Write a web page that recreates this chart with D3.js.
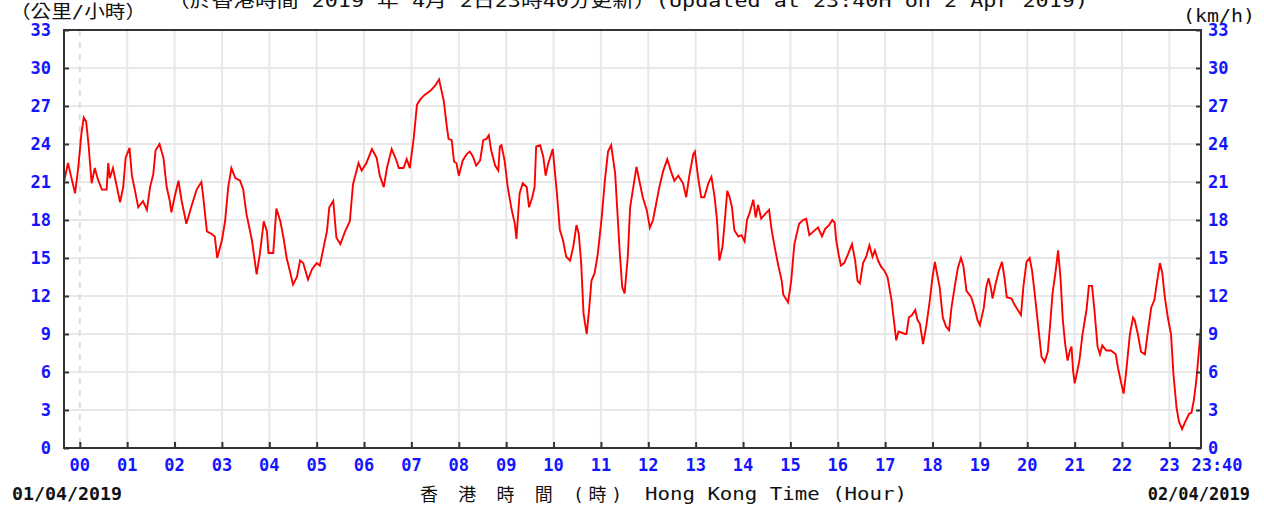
<!DOCTYPE html>
<html>
<head>
<meta charset="utf-8">
<script src="https://cdn.jsdelivr.net/npm/d3@7"></script>
<style>
  body { margin: 0; background: #fff; }
  svg { display: block; }
  .tick-label { font-family: "DejaVu Sans Mono", monospace; font-weight: bold; font-size: 17px; fill: #1414ff; }
  .plain { font-family: "DejaVu Sans Mono", "Noto Sans CJK TC", monospace; font-size: 18px; fill: #111; }
  .date { font-family: "DejaVu Sans Mono", monospace; font-weight: bold; font-size: 17px; fill: #111; }
</style>
</head>
<body>
<div class="chart"></div>
<script>
var svgWidth = 1264;
var svgHeight = 508;

// plot box
var margin = { top: 30, right: 63, bottom: 60, left: 64 };
var width = svgWidth - margin.left - margin.right;
var height = svgHeight - margin.top - margin.bottom;

// minutes after 00:00 on 02/04 and wind speed in km/h
var minutes = [
  -20, -15, -6, -2, 2, 5, 8, 11, 15, 19, 23, 28, 34, 36, 38, 42, 47, 51, 55, 58,
  63, 66, 70, 74, 80, 85, 89, 93, 96, 101, 106, 110, 114, 116, 120, 125, 129, 135, 142, 148,
  154, 156, 161, 167, 171, 174, 180, 184, 188, 192, 197, 203, 207, 211, 218, 224, 228, 233, 237, 239,
  245, 249, 254, 258, 262, 266, 270, 275, 279, 283, 289, 294, 300, 304, 308, 313, 316, 321, 325, 330,
  336, 342, 346, 353, 357, 363, 370, 376, 380, 385, 389, 395, 401, 404, 410, 414, 418, 423, 427, 431,
  437, 444, 450, 455, 461, 465,
  467, 471, 474, 477, 480, 485, 490, 494, 498, 502, 507, 511, 515, 518, 521, 526, 530, 532, 534, 538,
  542, 547, 551, 553, 557, 561, 566, 569, 573, 576, 578, 583, 587, 590, 593, 599, 604, 608, 612, 616,
  621, 625, 629, 632, 635, 638, 642, 645, 648, 652, 656, 661, 665, 669, 673, 678, 684, 687, 690, 694,
  697, 701, 705, 709, 713, 718, 722, 726, 730, 734, 739, 744, 749, 753, 758, 764, 768, 772, 777, 779,
  783, 787, 791, 796, 800, 804, 807, 810, 814, 817, 820, 823, 826, 829, 834, 838, 842, 845, 848, 853,
  856, 859, 863, 867, 873, 876, 880, 884, 889, 891, 897, 901, 905, 911, 916, 920, 924, 931, 935, 940,
  944, 949, 953, 956, 958, 961, 964, 968, 973, 978, 982, 985, 988, 992, 996, 1000, 1004, 1007, 1011, 1015,
  1019, 1023, 1028, 1031, 1034, 1037, 1045, 1047, 1050, 1054, 1058, 1061, 1064, 1068, 1072, 1076, 1080, 1083, 1085, 1089,
  1093, 1097, 1101, 1104, 1108, 1112, 1116, 1119, 1123, 1129, 1133, 1137, 1140, 1145, 1148, 1151, 1154, 1156, 1160, 1164,
  1168, 1171, 1174, 1180, 1183, 1188, 1192, 1195, 1199, 1203, 1206, 1209, 1213, 1218, 1222, 1226, 1229, 1232, 1236, 1239,
  1242, 1245, 1248, 1251, 1254, 1256, 1258, 1260, 1263, 1266, 1270, 1275, 1278, 1282, 1285, 1289, 1292, 1295, 1300, 1306,
  1312, 1315, 1319, 1322, 1325, 1330, 1334, 1336, 1340, 1344, 1349, 1353, 1357, 1361, 1364, 1368, 1371, 1374, 1378, 1382,
  1385, 1389, 1392, 1396, 1401, 1405, 1408, 1411, 1414, 1417, 1420
];
var speeds = [
  21.0, 22.5, 20.1, 22.1, 24.8, 26.1, 25.8, 24.0, 20.9, 22.1, 21.2, 20.4, 20.4, 22.5, 21.3, 22.1, 20.6, 19.4, 20.6, 22.9,
  23.7, 21.5, 20.3, 19.0, 19.5, 18.8, 20.6, 21.6, 23.5, 24.0, 22.9, 20.6, 19.5, 18.6, 19.8, 21.1, 19.5, 17.7, 19.2, 20.4,
  21.0, 20.0, 17.1, 16.9, 16.7, 15.0, 16.4, 17.9, 20.6, 22.1, 21.3, 21.1, 20.4, 18.5, 16.4, 13.7, 15.3, 17.9, 17.1, 15.4,
  15.4, 18.9, 17.9, 16.6, 15.0, 14.0, 12.9, 13.5, 14.8, 14.6, 13.3, 14.1, 14.6, 14.4, 15.6, 17.1, 19.0, 19.5, 16.6, 16.1,
  17.1, 17.9, 20.8, 22.5, 21.9, 22.5, 23.6, 22.9, 21.5, 20.6, 22.1, 23.6, 22.7, 22.1, 22.1, 22.8, 22.1, 24.5, 27.1, 27.5,
  27.9, 28.2, 28.6, 29.1, 27.4, 25.3,
  24.4, 24.3, 22.6, 22.5, 21.5, 22.7, 23.2, 23.4, 23.0, 22.3, 22.7, 24.3, 24.4, 24.7, 23.5, 22.3, 21.9, 23.8, 23.9, 22.7,
  20.6, 18.8, 17.7, 16.5, 20.1, 20.9, 20.6, 19.0, 19.8, 20.6, 23.8, 23.9, 23.0, 21.5, 22.4, 23.6, 20.3, 17.2, 16.4, 15.1,
  14.8, 15.9, 17.6, 16.9, 14.6, 10.6, 9.0, 10.9, 13.2, 13.8, 15.3, 18.2, 21.1, 23.4, 23.9, 21.7, 15.3, 12.7, 12.2, 15.1,
  19.0, 20.6, 22.2, 21.0, 19.8, 18.8, 17.4, 18.0, 19.3, 20.6, 21.9, 22.8, 21.8, 21.1, 21.5, 20.9, 19.8, 21.5, 23.2, 23.4,
  21.4, 19.8, 19.8, 20.9, 21.4, 19.8, 18.0, 14.8, 15.9, 18.0, 20.3, 19.8, 19.0, 17.2, 16.7, 16.8, 16.3, 18.0, 18.5, 19.6,
  18.2, 19.2, 18.1, 18.4, 18.8, 17.3, 15.9, 14.6, 13.2, 12.1, 11.5, 13.2, 16.1, 17.7, 18.0, 18.1, 16.8, 17.2, 17.4, 16.7,
  17.3, 17.6, 18.0, 17.8, 16.4, 15.3, 14.4, 14.6, 15.3, 16.1, 14.8, 13.2, 13.0, 14.6, 15.1, 16.0, 15.1, 15.6, 14.8, 14.3,
  14.0, 13.5, 11.7, 10.1, 8.5, 9.2, 9.0, 9.0, 10.3, 10.5, 10.9, 10.1, 9.8, 8.2, 9.6, 11.4, 13.5, 14.7, 14.0, 12.7,
  10.3, 9.6, 9.3, 11.1, 12.7, 14.2, 15.0, 14.4, 12.4, 11.9, 11.1, 10.1, 9.7, 11.1, 12.7, 13.4, 12.6, 11.8, 13.0, 14.0,
  14.7, 13.5, 11.9, 11.8, 11.4, 10.9, 10.5, 12.7, 14.7, 15.0, 14.0, 12.4, 10.1, 7.2, 6.8, 7.6, 9.8, 12.2, 14.0, 15.6,
  13.5, 10.1, 8.2, 6.9, 7.7, 8.0, 6.1, 5.1, 6.0, 6.9, 9.0, 10.9, 12.8, 12.8, 10.9, 8.0, 7.4, 8.1, 7.7, 7.7,
  7.4, 6.3, 5.1, 4.3, 5.9, 9.0, 10.3, 10.1, 9.0, 7.6, 7.4, 9.3, 11.1, 11.7, 13.0, 14.6, 13.8, 12.0, 10.3, 9.0,
  5.9, 3.2, 2.1, 1.5, 2.2, 2.7, 2.8, 3.8, 5.3, 7.4, 9.6
];

var yTicks = [0, 3, 6, 9, 12, 15, 18, 21, 24, 27, 30, 33];
var hourTicks = ["00", "01", "02", "03", "04", "05", "06", "07", "08", "09", "10", "11",
  "12", "13", "14", "15", "16", "17", "18", "19", "20", "21", "22", "23"];

var svg = d3.select(".chart")
  .append("svg")
  .attr("width", svgWidth)
  .attr("height", svgHeight);

var chartGroup = svg.append("g")
  .attr("transform", `translate(${margin.left}, ${margin.top})`);

var xScale = d3.scaleLinear().domain([-20, 1420]).range([0, width]);
var yScale = d3.scaleLinear().domain([0, 33]).range([height, 0]);

// grid
chartGroup.selectAll(".hgrid")
  .data(yTicks.slice(1, -1))
  .enter()
  .append("line")
  .attr("x1", 0).attr("x2", width)
  .attr("y1", d => yScale(d)).attr("y2", d => yScale(d))
  .attr("stroke", "#e8e8e8")
  .attr("stroke-width", 2);

chartGroup.selectAll(".vgrid")
  .data(hourTicks)
  .enter()
  .append("line")
  .attr("x1", (d, i) => xScale(i * 60)).attr("x2", (d, i) => xScale(i * 60))
  .attr("y1", 0).attr("y2", height)
  .attr("stroke", (d, i) => i === 0 ? "#dddddd" : "#e8e8e8")
  .attr("stroke-width", 2)
  .attr("stroke-dasharray", (d, i) => i === 0 ? "6,6" : null);

// line
var line = d3.line()
  .x((d, i) => xScale(minutes[i]))
  .y(d => yScale(d));

chartGroup.append("path")
  .datum(speeds)
  .attr("fill", "none")
  .attr("stroke", "#ff0000")
  .attr("stroke-width", 1.9)
  .attr("stroke-linejoin", "miter")
  .attr("d", line);

// frame
chartGroup.append("rect")
  .attr("x", 0).attr("y", 0)
  .attr("width", width).attr("height", height)
  .attr("fill", "none")
  .attr("stroke", "#333")
  .attr("stroke-width", 2);

// inward ticks on left, right and bottom
var leftAxis = d3.axisRight(yScale).tickValues(yTicks).tickSize(5).tickFormat("");
var rightAxis = d3.axisLeft(yScale).tickValues(yTicks).tickSize(5).tickFormat("");
var bottomAxis = d3.axisTop(xScale).tickValues(hourTicks.map((d, i) => i * 60)).tickSize(6).tickFormat("");

[chartGroup.append("g").call(leftAxis),
 chartGroup.append("g").attr("transform", `translate(${width}, 0)`).call(rightAxis),
 chartGroup.append("g").attr("transform", `translate(0, ${height})`).call(bottomAxis)
].forEach(function(g) {
  g.select(".domain").remove();
  g.selectAll("line").attr("stroke", "#333").attr("stroke-width", 2);
});

// y labels both sides
chartGroup.selectAll(".ylabel-left")
  .data(yTicks)
  .enter()
  .append("text")
  .attr("class", "tick-label")
  .attr("x", -13)
  .attr("y", d => yScale(d) + 6)
  .attr("text-anchor", "end")
  .text(d => d);

chartGroup.selectAll(".ylabel-right")
  .data(yTicks)
  .enter()
  .append("text")
  .attr("class", "tick-label")
  .attr("x", width + 7)
  .attr("y", d => yScale(d) + 6)
  .text(d => d);

// hour labels
chartGroup.selectAll(".xlabel")
  .data(hourTicks)
  .enter()
  .append("text")
  .attr("class", "tick-label")
  .attr("x", (d, i) => xScale(i * 60))
  .attr("y", height + 23)
  .attr("text-anchor", "middle")
  .text(d => d);

chartGroup.append("text")
  .attr("class", "tick-label")
  .attr("x", width + 16)
  .attr("y", height + 23)
  .attr("text-anchor", "middle")
  .text("23:40");

// titles
svg.append("text").attr("class", "plain")
  .attr("x", 10).attr("y", 18)
  .attr("textLength", 136).attr("lengthAdjust", "spacingAndGlyphs")
  .text("（公里/小時）");

svg.append("text").attr("class", "plain")
  .attr("x", 168).attr("y", 7)
  .attr("textLength", 920).attr("lengthAdjust", "spacingAndGlyphs")
  .text("（於香港時間 2019 年 4月 2日23時40分更新）(Updated at 23:40H on 2 Apr 2019)");

svg.append("text").attr("class", "plain")
  .attr("x", 1183).attr("y", 22)
  .attr("textLength", 72).attr("lengthAdjust", "spacingAndGlyphs")
  .text("(km/h)");

svg.append("text").attr("class", "plain")
  .attr("x", 420).attr("y", 501)
  .attr("textLength", 202).attr("lengthAdjust", "spacing")
  .text("香 港 時 間 (時)");

svg.append("text").attr("class", "plain")
  .attr("x", 645).attr("y", 500)
  .attr("textLength", 262).attr("lengthAdjust", "spacingAndGlyphs")
  .text("Hong Kong Time (Hour)");

svg.append("text").attr("class", "date")
  .attr("x", 12).attr("y", 500)
  .attr("textLength", 110).attr("lengthAdjust", "spacingAndGlyphs")
  .text("01/04/2019");

svg.append("text").attr("class", "date")
  .attr("x", 1250).attr("y", 500)
  .attr("text-anchor", "end")
  .text("02/04/2019");
</script>
</body>
</html>
